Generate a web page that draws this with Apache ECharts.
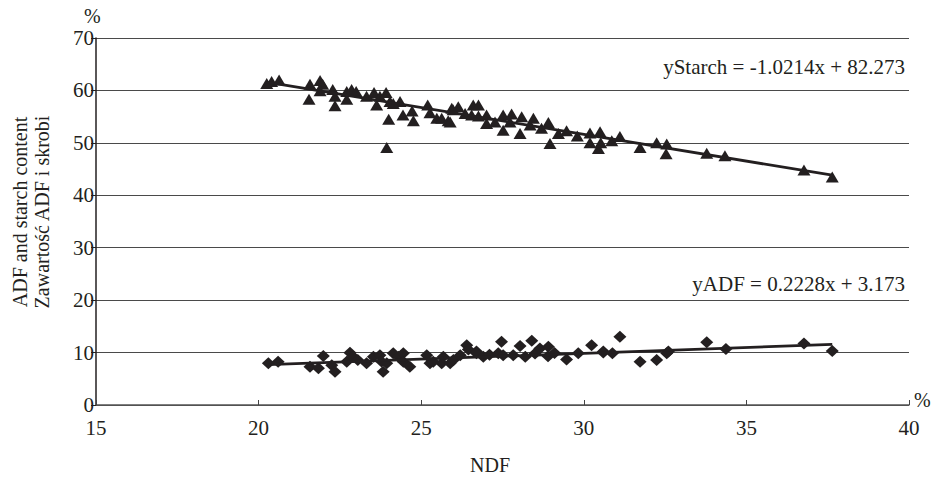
<!DOCTYPE html>
<html>
<head>
<meta charset="utf-8">
<script src="https://cdn.jsdelivr.net/npm/echarts@6/dist/echarts.min.js"></script>
<style>
  html, body { margin: 0; padding: 0; background: #fff; }
  #chart { width: 935px; height: 478px; }
</style>
</head>
<body>
<div id="chart"></div>
<script>
(function() {
  // --- data ---
  var starchNDF = [20.25, 20.4, 20.63, 21.55, 21.58, 21.89, 21.97, 21.89, 22.28, 22.35, 22.35, 22.71, 22.86, 23.0, 22.71,
    23.32, 23.55, 23.63, 23.73, 23.92, 23.94, 24.0, 24.04, 24.14, 24.35, 24.44, 24.72, 24.76, 25.2, 25.27,
    25.48, 25.63, 25.83, 25.89, 25.94, 25.98, 26.14, 26.35, 26.55, 26.6, 26.76, 26.76, 27.01, 27.01, 27.27,
    27.52, 27.52, 27.73, 27.78, 28.04, 28.09, 28.35, 28.45, 28.7, 28.91, 28.96, 29.22, 29.47, 29.8, 30.19,
    30.19, 30.45, 30.5, 30.52, 30.86, 31.11, 31.73, 32.24, 32.55, 32.53, 33.78, 34.34, 36.77, 37.64];
  var starchVal = [61.3, 61.7, 62.0, 58.3, 61.2, 61.9, 61.2, 59.95, 60.2, 58.9, 57.1, 59.8, 60.2, 59.8, 58.3,
    58.9, 59.6, 57.2, 58.9, 59.6, 49.1, 54.5, 57.9, 57.5, 57.9, 55.3, 56.1, 54.2, 57.2, 55.75,
    54.7, 54.7, 54.2, 54.0, 56.6, 56.3, 56.9, 55.6, 55.3, 57.2, 57.2, 55.1, 55.3, 53.7, 54.0,
    55.3, 52.4, 54.0, 55.5, 51.8, 55.0, 53.4, 54.7, 52.8, 53.9, 49.9, 51.8, 52.3, 51.3, 51.9,
    50.0, 48.9, 52.1, 50.0, 50.4, 51.2, 49.1, 50.0, 49.8, 47.9, 48.0, 47.55, 44.8, 43.5];

  var adfNDF = [20.3, 20.6, 21.58, 21.84, 21.99, 22.25, 22.35, 22.71, 22.81, 22.91, 23.05, 23.32, 23.53, 23.73, 23.78,
    23.83, 23.94, 24.14, 24.3, 24.45, 24.45, 24.65, 25.17, 25.27, 25.37, 25.63, 25.68, 25.89, 25.99, 26.2,
    26.4, 26.45, 26.7, 26.7, 26.91, 27.1, 27.37, 27.47, 27.52, 27.83, 28.04, 28.2, 28.4, 28.5, 28.65,
    28.91, 28.9, 29.1, 29.47, 29.83, 30.24, 30.6, 30.6, 30.88, 31.11, 31.73, 32.24, 32.55, 32.6, 33.78,
    34.37, 36.77, 37.64];
  var adfVal = [7.95, 8.26, 7.3, 7.0, 9.35, 7.6, 6.35, 8.26, 9.98, 9.2, 8.6, 7.95, 9.2, 9.5, 8.3,
    6.35, 7.95, 9.86, 9.2, 9.86, 8.26, 7.3, 9.5, 7.95, 8.26, 7.95, 9.2, 7.95, 8.6, 9.5,
    11.4, 10.6, 10.2, 9.86, 9.2, 9.6, 9.86, 12.07, 9.5, 9.5, 11.25, 9.2, 12.26, 9.8, 10.8,
    11.1, 9.3, 9.9, 8.7, 9.86, 11.4, 10.2, 10.0, 9.86, 13.0, 8.26, 8.6, 9.86, 10.2, 11.95,
    10.7, 11.75, 10.3];

  // trend line coefficients (from the equations shown on the chart)
  var starchFit = [-1.0214, 82.273];
  var adfFit = [0.2228, 3.173];
  var xTicks = [15, 20, 25, 30, 35, 40];
  var yTicks = [0, 10, 20, 30, 40, 50, 60, 70];

  var ink = '#231f20';
  var serif = '"Liberation Serif", "DejaVu Serif", serif';

  function pairs(xs, ys) {
    return xs.map(function(x, i) { return [x, ys[i]]; });
  }
  function fitLine(xs, coef) {
    var lo = Math.min.apply(null, xs), hi = Math.max.apply(null, xs);
    return [[lo, coef[0] * lo + coef[1]], [hi, coef[0] * hi + coef[1]]];
  }

  var chart = echarts.init(document.getElementById('chart'), null, { renderer: 'svg' });
  chart.setOption({
    animation: false,
    backgroundColor: '#fff',
    grid: { left: 96, right: 26, top: 38, bottom: 73 },
    xAxis: {
      type: 'value',
      min: xTicks[0], max: xTicks[xTicks.length - 1], interval: 5,
      axisLine: { lineStyle: { color: '#555', width: 1.5 } },
      axisTick: { show: true, length: 5, inside: true, lineStyle: { color: '#444' } },
      axisLabel: { color: ink, fontFamily: serif, fontSize: 21, margin: 12 },
      splitLine: { show: false }
    },
    yAxis: {
      type: 'value',
      min: yTicks[0], max: yTicks[yTicks.length - 1], interval: 10,
      axisLine: { show: true, lineStyle: { color: ink, width: 1.5 } },
      axisTick: { show: true, length: 5, lineStyle: { color: ink } },
      axisLabel: { color: ink, fontFamily: serif, fontSize: 21, margin: 2 },
      splitLine: { lineStyle: { color: '#4a4a4a', width: 1 } }
    },
    series: [
      {
        name: 'Starch', type: 'scatter', symbol: 'triangle', symbolSize: [13, 11],
        itemStyle: { color: ink, opacity: 1 }, data: pairs(starchNDF, starchVal), z: 3
      },
      {
        name: 'ADF', type: 'scatter', symbol: 'diamond', symbolSize: [13, 12],
        itemStyle: { color: ink, opacity: 1 }, data: pairs(adfNDF, adfVal), z: 3
      },
      {
        name: 'Starch trend', type: 'line', showSymbol: false, symbol: 'none',
        lineStyle: { color: ink, width: 2.8 }, data: fitLine(starchNDF, starchFit), z: 4
      },
      {
        name: 'ADF trend', type: 'line', showSymbol: false, symbol: 'none',
        lineStyle: { color: ink, width: 2.8 }, data: fitLine(adfNDF, adfFit), z: 4
      }
    ],
    graphic: [
      { type: 'text', left: 84, top: 6, style: { text: '%', fill: ink, font: '20px ' + serif } },
      { type: 'text', left: 914, top: 390, style: { text: '%', fill: ink, font: '20px ' + serif } },
      { type: 'text', left: 470, top: 455, style: { text: 'NDF', fill: ink, font: '20px ' + serif } },
      { type: 'text', right: 30, top: 56, style: { text: 'yStarch = -1.0214x + 82.273', fill: ink, font: '21px ' + serif } },
      { type: 'text', right: 30, top: 273, style: { text: 'yADF = 0.2228x + 3.173', fill: ink, font: '21px ' + serif } },
      {
        type: 'text', x: 20, y: 212, rotation: Math.PI / 2,
        style: { text: 'ADF and starch content', fill: ink, font: '20px ' + serif, align: 'center', verticalAlign: 'middle' }
      },
      {
        type: 'text', x: 42, y: 212, rotation: Math.PI / 2,
        style: { text: 'Zawartość ADF i skrobi', fill: ink, font: '20px ' + serif, align: 'center', verticalAlign: 'middle' }
      }
    ]
  });
})();
</script>
</body>
</html>
